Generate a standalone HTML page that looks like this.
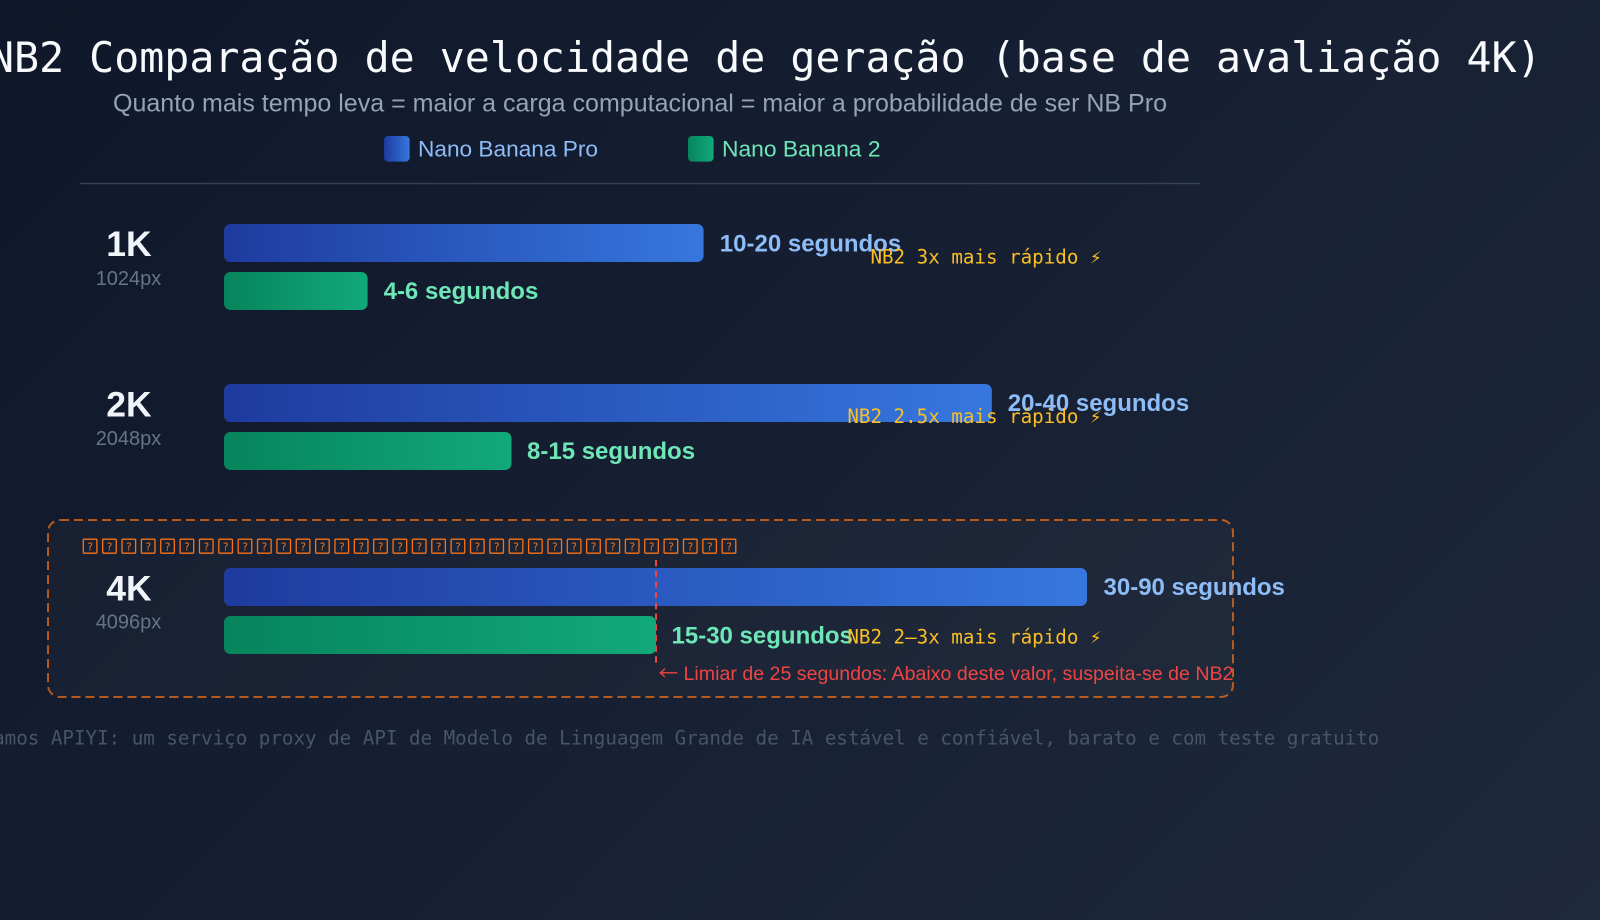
<!DOCTYPE html>
<html>
<head>
<meta charset="utf-8">
<style>
  html,body{margin:0;padding:0;width:1600px;height:920px;overflow:hidden;}
  body{background:linear-gradient(135deg,#0f172a 0%,#1e293b 100%);}
  svg{display:block;}
  .sans{font-family:"Liberation Sans","Noto Sans CJK SC",sans-serif;}
  .mono{font-family:"DejaVu Sans Mono","Liberation Mono",monospace;}
</style>
</head>
<body>
<svg width="1600" height="920" viewBox="0 0 1600 920" xmlns="http://www.w3.org/2000/svg">
  <defs>
    <linearGradient id="gb" x1="0" y1="0" x2="1" y2="0">
      <stop offset="0" stop-color="#1e3b9f"/>
      <stop offset="1" stop-color="#3677de"/>
    </linearGradient>
    <linearGradient id="gg" x1="0" y1="0" x2="1" y2="0">
      <stop offset="0" stop-color="#07845c"/>
      <stop offset="1" stop-color="#11a97a"/>
    </linearGradient>
  </defs>

  <!-- Title -->
  <text class="mono" x="-11" y="72" font-size="41.6" fill="#f8fafc">NB2 Comparação de velocidade de geração (base de avaliação 4K)</text>
  <text class="sans" x="640" y="111.7" text-anchor="middle" font-size="25" fill="#94a3b8" textLength="1054" lengthAdjust="spacingAndGlyphs">Quanto mais tempo leva = maior a carga computacional = maior a probabilidade de ser NB Pro</text>

  <!-- Legend -->
  <rect x="384" y="136" width="25.6" height="25.6" rx="4" fill="url(#gb)"/>
  <text class="sans" x="418" y="156.7" font-size="22" fill="#8dbcf7" textLength="180" lengthAdjust="spacingAndGlyphs">Nano Banana Pro</text>
  <rect x="688" y="136" width="25.6" height="25.6" rx="4" fill="url(#gg)"/>
  <text class="sans" x="722" y="156.7" font-size="22" fill="#6ee7b7" textLength="158.5" lengthAdjust="spacingAndGlyphs">Nano Banana 2</text>

  <line x1="80" y1="183.5" x2="1200" y2="183.5" stroke="#334155" stroke-width="1.6"/>

  <!-- 4K highlight box -->
  <rect x="48" y="520" width="1185" height="177" rx="12" fill="rgba(255,255,255,0.022)" stroke="#f97316" stroke-opacity="0.7" stroke-width="2" stroke-dasharray="9 5"/>

  <!-- Tofu row -->
  <g id="tofu" stroke="#f97316" stroke-width="1.3" fill="none"></g>
  <g id="tofuq" class="mono" font-size="10.5" fill="#f97316" text-anchor="middle"></g>

  <!-- 1K -->
  <text class="sans" x="129" y="256" text-anchor="middle" font-size="35.5" font-weight="bold" fill="#f1f5f9">1K</text>
  <text class="sans" x="128.5" y="285" text-anchor="middle" font-size="20" fill="#64748b">1024px</text>
  <rect x="224" y="224" width="479.6" height="38" rx="6.4" fill="url(#gb)"/>
  <rect x="224" y="272" width="143.6" height="38" rx="6.4" fill="url(#gg)"/>
  <text class="sans" x="719.8" y="251.7" font-size="24" font-weight="bold" fill="#8dbcf7">10-20 segundos</text>
  <text class="sans" x="383.6" y="299" font-size="24" font-weight="bold" fill="#6ee7b7">4-6 segundos</text>

  <!-- 2K -->
  <text class="sans" x="129" y="416.5" text-anchor="middle" font-size="35.5" font-weight="bold" fill="#f1f5f9">2K</text>
  <text class="sans" x="128.5" y="445" text-anchor="middle" font-size="20" fill="#64748b">2048px</text>
  <rect x="224" y="384" width="767.8" height="38" rx="6.4" fill="url(#gb)"/>
  <rect x="224" y="432" width="287.5" height="38" rx="6.4" fill="url(#gg)"/>
  <text class="sans" x="1007.8" y="411" font-size="24" font-weight="bold" fill="#8dbcf7">20-40 segundos</text>
  <text class="sans" x="527" y="459" font-size="24" font-weight="bold" fill="#6ee7b7">8-15 segundos</text>

  <!-- 4K -->
  <text class="sans" x="129" y="600.5" text-anchor="middle" font-size="35.5" font-weight="bold" fill="#f1f5f9">4K</text>
  <text class="sans" x="128.5" y="628.5" text-anchor="middle" font-size="20" fill="#64748b">4096px</text>
  <rect x="224" y="568" width="863" height="38" rx="6.4" fill="url(#gb)"/>
  <rect x="224" y="616" width="432" height="38" rx="6.4" fill="url(#gg)"/>
  <text class="sans" x="1103.5" y="595" font-size="24" font-weight="bold" fill="#8dbcf7">30-90 segundos</text>
  <text class="sans" x="671.5" y="643.3" font-size="24" font-weight="bold" fill="#6ee7b7">15-30 segundos</text>

  <!-- threshold -->
  <line x1="656" y1="560" x2="656" y2="663" stroke="#ef4444" stroke-width="2" stroke-dasharray="6.4 4.3"/>
  <text class="sans" x="658.5" y="680" font-size="19.5" fill="#ef4444" textLength="575" lengthAdjust="spacingAndGlyphs"><tspan font-family="Noto Sans CJK SC, sans-serif">←</tspan> Limiar de 25 segundos: Abaixo deste valor, suspeita-se de NB2</text>

  <!-- annotations -->
  <text class="mono" x="1101.5" y="263.3" text-anchor="end" font-size="19.2" fill="#fbbf24">NB2 3x mais rápido ⚡</text>
  <text class="mono" x="1101.5" y="423" text-anchor="end" font-size="19.2" fill="#fbbf24">NB2 2.5x mais rápido ⚡</text>
  <text class="mono" x="1101.5" y="643.3" text-anchor="end" font-size="19.2" fill="#fbbf24">NB2 2–3x mais rápido ⚡</text>

  <!-- footer -->
  <text class="mono" x="640" y="744.3" text-anchor="middle" font-size="19.2" fill="#475569">Recomendamos APIYI: um serviço proxy de API de Modelo de Linguagem Grande de IA estável e confiável, barato e com teste gratuito</text>
</svg>
<script>
  (function(){
    var ns="http://www.w3.org/2000/svg";
    var g=document.getElementById("tofu"), q=document.getElementById("tofuq");
    for(var i=0;i<34;i++){
      var x=83.3+i*19.36;
      var r=document.createElementNS(ns,"rect");
      r.setAttribute("x",x);r.setAttribute("y",539.2);
      r.setAttribute("width",13.6);r.setAttribute("height",14);
      r.setAttribute("rx",1);
      g.appendChild(r);
      var t=document.createElementNS(ns,"text");
      t.setAttribute("x",x+6.8);t.setAttribute("y",550.3);
      t.textContent="?";
      q.appendChild(t);
    }
  })();
</script>
</body>
</html>
